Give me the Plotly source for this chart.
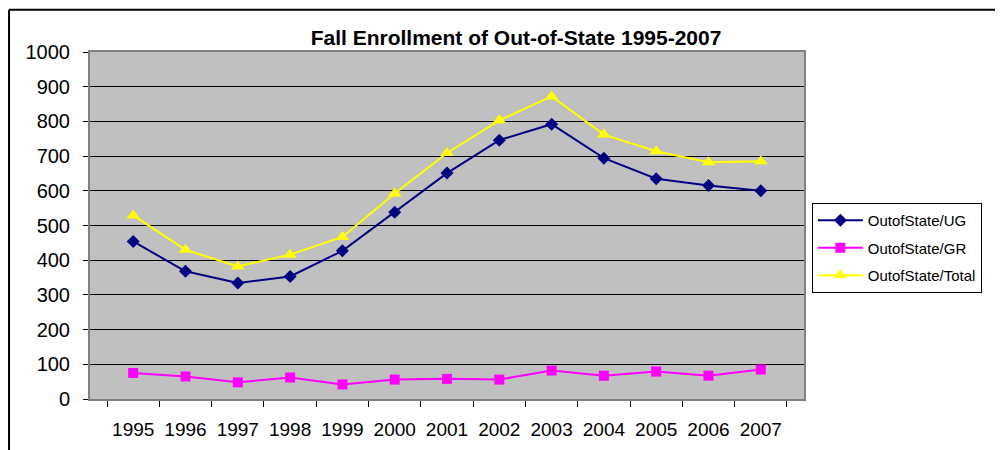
import plotly.graph_objects as go

# data
years = ["1995", "1996", "1997", "1998", "1999", "2000", "2001",
         "2002", "2003", "2004", "2005", "2006", "2007"]
ug = [454, 368, 334, 353, 427, 538, 651, 746, 792, 694, 635, 615, 600]
gr = [75, 65, 48, 62, 42, 56, 58, 56, 82, 67, 79, 67, 85]
total = [529, 430, 382, 416, 467, 592, 709, 803, 872, 762, 714, 682, 685]

font = "Liberation Sans, Arial, sans-serif"

fig = go.Figure()
fig.add_trace(go.Scatter(x=years, y=ug, name="OutofState/UG", mode="lines+markers",
                         legendgroup="ug",
                         line=dict(color="#000080", width=2),
                         marker=dict(symbol="diamond", size=10, color="#000080")))
fig.add_trace(go.Scatter(x=years, y=gr, name="OutofState/GR", mode="lines+markers",
                         legendgroup="gr",
                         line=dict(color="#FF00FF", width=2),
                         marker=dict(symbol="square", size=10, color="#FF00FF")))
fig.add_trace(go.Scatter(x=years, y=total, name="OutofState/Total", mode="lines+markers",
                         legendgroup="total",
                         line=dict(color="#FFFF00", width=2),
                         marker=dict(symbol="triangle-up", size=12, color="#FFFF00")))

# outer chart frame (left and top edges visible in the reference)
fig.add_shape(type="line", xref="paper", yref="paper", x0=-0.1134, x1=1.3, y0=1.122, y1=1.122,
              line=dict(color="black", width=2))
fig.add_shape(type="line", xref="paper", yref="paper", x0=-0.1134, x1=-0.1134, y0=-0.2, y1=1.122,
              line=dict(color="black", width=2))

fig.update_layout(
    width=995, height=442,
    margin=dict(l=82, r=199, t=44, b=51),
    paper_bgcolor="white",
    plot_bgcolor="#C0C0C0",
    font=dict(family=font, color="black"),
    title=dict(text="<b>Fall Enrollment of Out-of-State 1995-2007</b>",
               x=0.5106, xanchor="center", y=0.932, yanchor="middle",
               font=dict(size=21, family=font, color="black")),
    legend=dict(x=1.011, y=0.565, xanchor="left", yanchor="top",
                bgcolor="white", bordercolor="black", borderwidth=1,
                itemwidth=45,
                font=dict(size=15, family=font), tracegroupgap=5),
    showlegend=True,
)
fig.update_xaxes(type="category", tickson="boundaries", ticks="outside", ticklen=6,
                 tickcolor="black", showgrid=False, showline=True, linecolor="#808080",
                 linewidth=2, mirror=True, tickangle=0, automargin=False,
                 ticklabelstandoff=12, tickfont=dict(size=19, family=font))
fig.update_yaxes(range=[0, 1000], dtick=100, ticks="outside", ticklen=5, tickcolor="black",
                 showgrid=True, gridcolor="black", gridwidth=1, showline=True,
                 linecolor="#808080", linewidth=2, mirror=True, zeroline=False,
                 automargin=False, ticklabelstandoff=9, tickfont=dict(size=20, family=font))

fig.write_html("out.html")
